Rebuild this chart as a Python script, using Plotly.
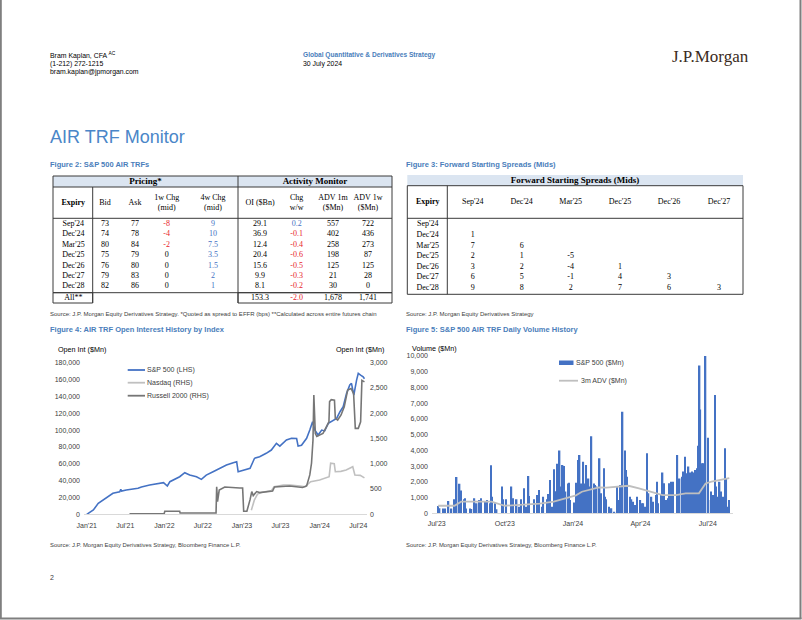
import plotly.graph_objects as go

W, H = 802, 620
def px(x): return x / W
def py(y): return 1 - y / H

# ---------------- DATA ----------------
# Figure 2 table
expiries = ["Sep'24", "Dec'24", "Mar'25", "Dec'25", "Dec'26", "Dec'27", "Dec'28"]
bid = [73, 74, 80, 75, 76, 79, 82]
ask = [77, 78, 84, 79, 80, 83, 86]
chg_1w = [-8, -4, -2, 0, 0, 0, 0]
chg_4w = [9, 10, 7.5, 3.5, 1.5, 2, 1]
oi_bn = [29.1, 36.9, 12.4, 20.4, 15.6, 9.9, 8.1]
oi_chg = [0.2, -0.1, -0.4, -0.6, -0.5, -0.3, -0.2]
adv_1m = [557, 402, 258, 198, 125, 21, 30]
adv_1w = [722, 436, 273, 87, 125, 28, 0]
total_label = "All**"
total_oi, total_chg, total_adv1m, total_adv1w = 153.3, -2.0, 1678, 1741

# Figure 3 table (lower triangle)
fwd_cols = ["Sep'24", "Dec'24", "Mar'25", "Dec'25", "Dec'26", "Dec'27"]
fwd_vals = [[], [1], [7, 6], [2, 1, -5], [3, 2, -4, 1], [6, 5, -1, 4, 3], [9, 8, 2, 7, 6, 3]]

# Figure 4: open interest history
spx_dates = ['2021-01-01', '2021-02-01', '2021-02-24', '2021-03-18', '2021-04-10', '2021-05-04',
             '2021-06-05', '2021-06-10', '2021-06-14', '2021-07-06', '2021-08-30', '2021-09-15',
             '2021-10-24', '2021-12-10', '2021-12-28', '2022-01-15', '2022-01-27', '2022-03-14',
             '2022-04-07', '2022-04-30', '2022-06-01', '2022-06-24', '2022-07-17', '2022-08-18',
             '2022-09-19', '2022-10-20', '2022-11-21', '2022-12-07', '2022-12-14', '2023-01-15',
             '2023-02-08', '2023-03-01', '2023-03-25', '2023-04-25', '2023-05-19', '2023-06-12',
             '2023-06-28', '2023-07-29', '2023-08-22', '2023-09-15', '2023-09-22', '2023-10-08',
             '2023-11-01', '2023-11-16', '2023-11-29', '2023-12-10', '2023-12-25', '2024-01-11',
             '2024-01-25', '2024-02-11', '2024-03-05', '2024-03-21', '2024-04-06', '2024-04-21',
             '2024-05-07', '2024-05-22', '2024-05-30', '2024-06-10', '2024-06-23', '2024-07-01',
             '2024-07-12', '2024-07-24', '2024-07-30']
spx_oi = [0, 5100, 13000, 17000, 20900, 24900,
          26800, 29500, 27500, 28800, 30900, 32500,
          34800, 36800, 37500, 33600, 38700, 44600,
          49400, 46600, 44600, 41500, 46600, 50600,
          54600, 58500, 61300, 62400, 50600, 52600,
          54600, 66500, 68400, 72400, 76300, 84300,
          81000, 88200, 90200, 90000, 81000, 82000,
          90200, 100000, 110000, 100000, 94100, 100000,
          99000, 108000, 111900, 113900, 121800, 127700,
          143600, 153500, 155500, 141600, 159400, 167300,
          165300, 163300, 161000]

ndx_dates = ['2023-02-14', '2023-02-28', '2023-03-15', '2023-04-01', '2023-05-20', '2023-06-01',
             '2023-07-15', '2023-08-15', '2023-10-01', '2023-10-25', '2023-11-20', '2024-01-01',
             '2024-02-15', '2024-02-22', '2024-03-10', '2024-03-15', '2024-04-10', '2024-05-05',
             '2024-06-05', '2024-06-15', '2024-07-10', '2024-07-30']
ndx_oi = [80, 280, 400, 430, 470, 546,
          580, 580, 560, 546, 645, 680,
          744, 1010, 1000, 843, 850, 876,
          942, 777, 770, 720]

rty_dates = ['2021-07-21', '2021-12-31', '2022-01-03', '2022-03-14', '2022-03-16', '2022-09-01',
             '2022-09-04', '2022-09-08', '2022-09-16', '2022-10-12', '2022-12-21', '2023-01-04',
             '2023-01-09', '2023-01-24', '2023-02-08', '2023-02-16', '2023-02-23', '2023-03-11',
             '2023-03-25', '2023-05-25', '2023-06-03', '2023-08-13', '2023-10-13', '2023-11-01',
             '2023-11-16', '2023-11-24', '2023-12-01', '2023-12-05', '2023-12-12', '2023-12-19',
             '2024-01-01', '2024-01-17', '2024-02-02', '2024-02-14', '2024-02-17', '2024-02-25',
             '2024-03-11', '2024-03-15', '2024-03-26', '2024-04-11', '2024-04-26', '2024-05-12',
             '2024-05-28', '2024-06-09', '2024-06-17', '2024-07-01', '2024-07-12', '2024-07-18',
             '2024-07-30']
rty_oi = [10, 10, 60, 60, 25, 25,
          546, 250, 480, 540, 520, 520,
          60, 60, 290, 450, 370, 450,
          430, 460, 540, 560, 530, 560,
          780, 1010, 1470, 2360, 1600, 1540,
          1570, 1600, 1730, 1830, 2230, 2270,
          2260, 1900, 1866, 1965, 2130, 2460,
          2490, 2390, 1700, 1700, 1830, 2650,
          2620]

oi_tick_dates = ['2021-01-01', '2021-07-01', '2022-01-01', '2022-07-01',
                 '2023-01-01', '2023-07-01', '2024-01-01', '2024-07-01']
oi_tick_text = ["Jan'21", "Jul'21", "Jan'22", "Jul'22", "Jan'23", "Jul'23", "Jan'24", "Jul'24"]

# Figure 5: daily volume
vol_dates = ['2023-07-03', '2023-07-05', '2023-07-10', '2023-07-12', '2023-07-17', '2023-07-21',
             '2023-07-25', '2023-07-28', '2023-07-31', '2023-08-01', '2023-08-03', '2023-08-07',
             '2023-08-08', '2023-08-10', '2023-08-15', '2023-08-17', '2023-08-21', '2023-08-24',
             '2023-08-28', '2023-08-30', '2023-09-05', '2023-09-07', '2023-09-11', '2023-09-12',
             '2023-09-14', '2023-09-18', '2023-09-20', '2023-09-27', '2023-09-29', '2023-10-03',
             '2023-10-10', '2023-10-12', '2023-10-17', '2023-10-20', '2023-10-23', '2023-10-27',
             '2023-10-30', '2023-11-02', '2023-11-03', '2023-11-09', '2023-11-14', '2023-11-16',
             '2023-11-20', '2023-11-22', '2023-11-27', '2023-11-29', '2023-12-01', '2023-12-04',
             '2023-12-06', '2023-12-08', '2023-12-11', '2023-12-12', '2023-12-14', '2023-12-15',
             '2023-12-18', '2023-12-20', '2023-12-22', '2023-12-26', '2023-12-27', '2023-12-28',
             '2024-01-02', '2024-01-05', '2024-01-08', '2024-01-10', '2024-01-12', '2024-01-15',
             '2024-01-17', '2024-01-19', '2024-01-22', '2024-01-24', '2024-01-26', '2024-01-29',
             '2024-01-31', '2024-02-02', '2024-02-05', '2024-02-06', '2024-02-08', '2024-02-12',
             '2024-02-13', '2024-02-15', '2024-02-19', '2024-02-20', '2024-02-22', '2024-02-26',
             '2024-02-29', '2024-03-04', '2024-03-05', '2024-03-06', '2024-03-08', '2024-03-11',
             '2024-03-13', '2024-03-14', '2024-03-18', '2024-03-20', '2024-03-22', '2024-03-25',
             '2024-03-27', '2024-04-01', '2024-04-03', '2024-04-05', '2024-04-08', '2024-04-10',
             '2024-04-12', '2024-04-16', '2024-04-18', '2024-04-22', '2024-04-23', '2024-04-25',
             '2024-04-29', '2024-05-01', '2024-05-03', '2024-05-06', '2024-05-08', '2024-05-10',
             '2024-05-13', '2024-05-15', '2024-05-20', '2024-05-21', '2024-05-24', '2024-05-27',
             '2024-05-29', '2024-05-31', '2024-06-03', '2024-06-05', '2024-06-07', '2024-06-10',
             '2024-06-12', '2024-06-14', '2024-06-17', '2024-06-18', '2024-06-20', '2024-06-21',
             '2024-06-24', '2024-06-25', '2024-06-26', '2024-06-28', '2024-07-01', '2024-07-02',
             '2024-07-05', '2024-07-08', '2024-07-09', '2024-07-11', '2024-07-12', '2024-07-15',
             '2024-07-17', '2024-07-19', '2024-07-22', '2024-07-24', '2024-07-26', '2024-07-29',
             '2024-07-30']
vol_mn = [470, 320, 300, 300, 780, 300,
          900, 2300, 1050, 1880, 1450, 900,
          950, 300, 300, 280, 950, 640,
          850, 950, 740, 850, 640, 3050,
          1050, 640, 250, 1700, 890, 890,
          1700, 950, 890, 420, 890, 1590,
          420, 2370, 1100, 890, 1170, 1480,
          420, 1060, 890, 1230, 2120, 420,
          2800, 1400, 3150, 1380, 4000, 1700,
          3070, 3000, 1380, 1900, 1950, 850,
          680, 1950, 3390, 3700, 1900, 3280,
          1900, 3070, 2220, 1700, 4900, 1900,
          1800, 1700, 1900, 3500, 1270, 2860,
          1060, 890, 420, 210, 320, 100,
          1700, 850, 1800, 420, 6460, 4000,
          2750, 2330, 1060, 890, 740, 530,
          1060, 850, 640, 640, 420, 3810,
          1270, 1060, 740, 1170, 2010, 640,
          1170, 2590, 1910, 850, 950, 1910,
          2010, 2010, 2440, 3710, 2220, 2330,
          2650, 3600, 2540, 2970, 2590, 2650,
          2590, 2750, 2860, 4300, 9400, 6600,
          3180, 3180, 1900, 10000, 4800, 850,
          1380, 1170, 1060, 7520, 1700, 1060,
          2010, 1380, 1060, 4130, 2230, 420,
          850]

adv_dates = ['2023-07-03', '2023-07-25', '2023-08-03', '2023-09-13', '2023-10-01', '2023-10-24',
             '2023-11-17', '2023-12-06', '2023-12-24', '2024-01-05', '2024-01-13', '2024-01-27',
             '2024-02-05', '2024-02-15', '2024-03-07', '2024-03-16', '2024-03-30', '2024-04-17',
             '2024-05-01', '2024-05-19', '2024-06-01', '2024-06-19', '2024-06-28', '2024-07-06',
             '2024-07-19', '2024-07-30']
adv_3m = [480, 480, 740, 740, 480, 560,
          610, 740, 1000, 1140, 1370, 1550,
          1650, 1630, 1690, 1750, 1590, 1370,
          1160, 1160, 1270, 1270, 1900, 2010,
          2120, 2230]

vol_tick_dates = ['2023-07-01', '2023-10-01', '2024-01-01', '2024-04-01', '2024-07-01']
vol_tick_text = ["Jul'23", "Oct'23", "Jan'24", "Apr'24", "Jul'24"]

# ---------------- STYLE ----------------
SANS = "Liberation Sans, Arial, sans-serif"
SERIF = "Liberation Serif, Times New Roman, serif"
BLUE_T = "#4a7ebb"
SPX_C = "#4472c4"
NDX_C = "#c0c0c0"
RTY_C = "#767676"
POS_C = "#4472c4"
NEG_C = "#e8242b"
TXT = "#404040"

fig = go.Figure()

# ---- Figure 4 traces ----
fig.add_trace(go.Scatter(x=spx_dates, y=spx_oi, mode="lines", line=dict(color=SPX_C, width=1.6),
                         xaxis="x", yaxis="y", showlegend=False, hoverinfo="skip"))
fig.add_trace(go.Scatter(x=ndx_dates, y=ndx_oi, mode="lines", line=dict(color=NDX_C, width=1.6),
                         xaxis="x", yaxis="y2", showlegend=False, hoverinfo="skip"))
fig.add_trace(go.Scatter(x=rty_dates, y=rty_oi, mode="lines", line=dict(color=RTY_C, width=1.6),
                         xaxis="x", yaxis="y2", showlegend=False, hoverinfo="skip"))

# ---- Figure 5 traces ----
fig.add_trace(go.Bar(x=vol_dates, y=vol_mn, marker=dict(color=SPX_C, line=dict(width=0)),
                     width=1.9 * 86400000, xaxis="x2", yaxis="y3", showlegend=False, hoverinfo="skip"))
fig.add_trace(go.Scatter(x=adv_dates, y=adv_3m, mode="lines", line=dict(color="#bfbfbf", width=1.8),
                         xaxis="x2", yaxis="y3", showlegend=False, hoverinfo="skip"))

# ---- Tables (drawn on a page-pixel axis pair x3/y4) ----
def col_of(v):
    if v < 0:
        return NEG_C
    if v > 0:
        return POS_C
    return "black"

t1_cols = [73.3, 105, 135, 166.7, 213, 260, 296.7, 333, 368]
t1_rows = [224, 234.4, 244.8, 255.2, 265.6, 276, 286.4]
t1_x, t1_y, t1_t, t1_c = [], [], [], []
for i, e in enumerate(expiries):
    cells = [
        (e, "black"),
        (str(bid[i]), "black"),
        (str(ask[i]), "black"),
        (f"{chg_1w[i]:g}", col_of(chg_1w[i])),
        (f"{chg_4w[i]:g}", col_of(chg_4w[i])),
        (f"{oi_bn[i]:.1f}", "black"),
        (f"{oi_chg[i]:.1f}", col_of(oi_chg[i])),
        (f"{adv_1m[i]:,}", "black"),
        (f"{adv_1w[i]:,}", "black"),
    ]
    for j, (txt, c) in enumerate(cells):
        t1_x.append(t1_cols[j]); t1_y.append(t1_rows[i]); t1_t.append(txt); t1_c.append(c)
for j, (txt, c) in zip([0, 5, 6, 7, 8], [(total_label, "black"), (f"{total_oi:.1f}", "black"),
                                          (f"{total_chg:.1f}", NEG_C), (f"{total_adv1m:,}", "black"),
                                          (f"{total_adv1w:,}", "black")]):
    t1_x.append(t1_cols[j]); t1_y.append(298); t1_t.append(txt); t1_c.append(c)

fig.add_trace(go.Scatter(x=t1_x, y=t1_y, text=t1_t, mode="text", textposition="middle center",
                         textfont=dict(family=SERIF, size=8, color=t1_c), xaxis="x3", yaxis="y4",
                         showlegend=False, hoverinfo="skip", cliponaxis=False))

t1_head = ["<b>Expiry</b>", "Bid", "Ask", "1w Chg<br>(mid)", "4w Chg<br>(mid)", "OI ($Bn)",
           "Chg<br>w/w", "ADV 1m<br>($Mn)", "ADV 1w<br>($Mn)"]
fig.add_trace(go.Scatter(x=t1_cols, y=[203] * len(t1_cols), text=t1_head, mode="text",
                         textposition="middle center", textfont=dict(family=SERIF, size=8, color="black"),
                         xaxis="x3", yaxis="y4", showlegend=False, hoverinfo="skip", cliponaxis=False))
fig.add_trace(go.Scatter(x=[145.5, 315], y=[181.5, 181.5], text=["<b>Pricing*</b>", "<b>Activity Monitor</b>"],
                         mode="text", textposition="middle center",
                         textfont=dict(family=SERIF, size=9, color="black"),
                         xaxis="x3", yaxis="y4", showlegend=False, hoverinfo="skip", cliponaxis=False))

# Table 2
t2_cols = [427.7, 472.7, 521.7, 570.7, 620, 669, 719]
t2_rows = [224.3, 234.9, 245.5, 256.1, 266.7, 277.3, 288.2]
t2_x, t2_y, t2_t = [], [], []
for i, e in enumerate(expiries):
    t2_x.append(t2_cols[0]); t2_y.append(t2_rows[i]); t2_t.append(e)
    for j, v in enumerate(fwd_vals[i]):
        t2_x.append(t2_cols[j + 1]); t2_y.append(t2_rows[i]); t2_t.append(f"{v:g}")
fig.add_trace(go.Scatter(x=t2_x, y=t2_y, text=t2_t, mode="text", textposition="middle center",
                         textfont=dict(family=SERIF, size=8, color="black"), xaxis="x3", yaxis="y4",
                         showlegend=False, hoverinfo="skip", cliponaxis=False))
fig.add_trace(go.Scatter(x=t2_cols, y=[202.3] * len(t2_cols), text=["<b>Expiry</b>"] + fwd_cols,
                         mode="text", textposition="middle center",
                         textfont=dict(family=SERIF, size=8, color="black"), xaxis="x3", yaxis="y4",
                         showlegend=False, hoverinfo="skip", cliponaxis=False))
fig.add_trace(go.Scatter(x=[575], y=[180.3], text=["<b>Forward Starting Spreads (Mids)</b>"],
                         mode="text", textposition="middle center",
                         textfont=dict(family=SERIF, size=9, color="black"), xaxis="x3", yaxis="y4",
                         showlegend=False, hoverinfo="skip", cliponaxis=False))

# ---- Shapes ----
shapes = []
LC = "#3a3a3a"
def rect(x0, y0, x1, y1, fill=None, line=True):
    d = dict(type="rect", xref="x3", yref="y4", x0=x0, y0=y0, x1=x1, y1=y1, layer="below")
    d["fillcolor"] = fill if fill else "rgba(0,0,0,0)"
    d["line"] = dict(color=LC, width=1) if line else dict(width=0)
    return d
def hline(x0, x1, y):
    return dict(type="line", xref="x3", yref="y4", x0=x0, x1=x1, y0=y, y1=y, line=dict(color=LC, width=1))
def vline(x, y0, y1):
    return dict(type="line", xref="x3", yref="y4", x0=x, x1=x, y0=y0, y1=y1, line=dict(color=LC, width=1))

HDR = "#dbe5f1"
# table 1
shapes.append(rect(53, 176, 392, 187, fill=HDR, line=False))
shapes.append(rect(53, 176, 392, 292.7))
shapes.append(hline(53, 392, 187))
shapes.append(hline(53, 392, 218.3))
shapes.append(vline(238, 176, 303))
shapes.append(vline(92.7, 187, 303))
shapes.append(rect(53, 292.7, 92.7, 303))
shapes.append(rect(238, 292.7, 392, 303))
# table 2
shapes.append(rect(407.3, 175, 743, 185.7, fill=HDR, line=False))
shapes.append(rect(407.3, 185.7, 743, 294.3))
shapes.append(hline(407.3, 743, 218.3))
shapes.append(vline(447.3, 185.7, 294.3))

# legends for figure 4
leg4 = [("S&P 500 (LHS)", SPX_C, 370), ("Nasdaq (RHS)", NDX_C, 382.7), ("Russell 2000 (RHS)", RTY_C, 395.7)]
for name, c, yy in leg4:
    shapes.append(dict(type="line", xref="x3", yref="y4", x0=127.7, x1=145, y0=yy, y1=yy,
                       line=dict(color=c, width=1.8)))
# legend for figure 5
shapes.append(dict(type="rect", xref="x3", yref="y4", x0=559, x1=573.5, y0=360.5, y1=365,
                   fillcolor=SPX_C, line=dict(width=0)))
shapes.append(dict(type="line", xref="x3", yref="y4", x0=559, x1=578, y0=380.7, y1=380.7,
                   line=dict(color="#bfbfbf", width=1.8)))
# page frame (left, right, bottom edges)
shapes.append(dict(type="line", xref="x3", yref="y4", x0=0.8, x1=0.8, y0=0, y1=619,
                   line=dict(color="#7f7f7f", width=2)))
shapes.append(dict(type="line", xref="x3", yref="y4", x0=800.5, x1=800.5, y0=0, y1=619,
                   line=dict(color="#7f7f7f", width=2)))
shapes.append(dict(type="line", xref="x3", yref="y4", x0=0, x1=801.5, y0=618.5, y1=618.5,
                   line=dict(color="#7f7f7f", width=2)))

# ---- Annotations ----
ann = []
def text(s, x, y, size=6, color="black", family=SANS, anchor="left"):
    ann.append(dict(text=s, x=px(x), y=py(y), xref="paper", yref="paper", xanchor=anchor,
                    yanchor="middle", showarrow=False, font=dict(family=family, size=size, color=color),
                    borderpad=0))

text("Bram Kaplan, CFA <sup>AC</sup>", 49, 55.5, 6.9)
text("(1-212) 272-1215", 49, 63.5, 6.9)
text("bram.kaplan@jpmorgan.com", 49, 71.5, 6.9)
text("<b>Global Quantitative & Derivatives Strategy</b>", 302, 55.5, 6.6, BLUE_T)
text("30 July 2024", 302, 63.5, 6.9)
text("J.P.Morgan", 671, 57, 17, "#3b2b22", SERIF)
text("AIR TRF Monitor", 49, 137, 18, "#4a86c8")
text("<b>Figure 2: S&P 500 AIR TRFs</b>", 49, 164, 7.5, BLUE_T)
text("<b>Figure 3: Forward Starting Spreads (Mids)</b>", 405, 164, 7.5, BLUE_T)
text("Source: J.P. Morgan Equity Derivatives Strategy. *Quoted as spread to EFFR (bps) **Calculated across entire futures chain",
     49, 314, 6.0, TXT)
text("Source: J.P. Morgan Equity Derivatives Strategy", 405, 314, 6.0, TXT)
text("<b>Figure 4: AIR TRF Open Interest History by Index</b>", 49, 329, 7.5, BLUE_T)
text("<b>Figure 5: S&P 500 AIR TRF Daily Volume History</b>", 405, 329, 7.5, BLUE_T)
text("Open Int ($Mn)", 57, 349, 7.2, "black")
text("Open Int ($Mn)", 384.5, 349, 7.2, "black", anchor="right")
text("Volume ($Mn)", 411, 348, 7.2, "black")
for name, c, yy in leg4:
    text(name, 146, yy, 7, TXT)
text("S&P 500 ($Mn)", 574.5, 362.7, 7, TXT)
text("3m ADV ($Mn)", 579.5, 380.7, 7, TXT)
text("Source: J.P. Morgan Equity Derivatives Strategy, Bloomberg Finance L.P.", 49, 545, 5.9, TXT)
text("Source: J.P. Morgan Equity Derivatives Strategy, Bloomberg Finance L.P.", 405, 545, 5.9, TXT)
text("2", 49, 577, 7, TXT)

tickfont = dict(family=SANS, size=7, color=TXT)
common = dict(showgrid=False, zeroline=False, ticks="", tickfont=tickfont, fixedrange=True,
              automargin=False)

fig.update_layout(
    width=W, height=H, autosize=False,
    margin=dict(l=0, r=0, t=0, b=0, pad=0, autoexpand=False),
    paper_bgcolor="white", plot_bgcolor="rgba(0,0,0,0)",
    showlegend=False, barmode="overlay",
    xaxis=dict(domain=[px(84), px(367)], range=["2020-12-19", "2024-08-11"], type="date",
               tickvals=oi_tick_dates, ticktext=oi_tick_text, showline=True, linecolor="#d9d9d9",
               linewidth=1, anchor="y", ticklabelstandoff=4, **common),
    yaxis=dict(domain=[py(514.3), py(362.7)], range=[0, 180000], tickvals=list(range(0, 180001, 20000)),
               tickformat=",", anchor="x", ticklabelstandoff=3, **common),
    yaxis2=dict(overlaying="y", side="right", range=[0, 3000], tickvals=list(range(0, 3001, 500)),
                tickformat=",", anchor="x", ticklabelstandoff=2, **common),
    xaxis2=dict(domain=[px(432), px(733)], range=["2023-06-24 16:00", "2024-08-04"], type="date",
                tickvals=vol_tick_dates, ticktext=vol_tick_text, showline=True, linecolor="#d9d9d9",
                linewidth=1, anchor="y3", ticklabelstandoff=3, **common),
    yaxis3=dict(domain=[py(513.3), py(356)], range=[0, 10000], tickvals=list(range(0, 10001, 1000)),
                tickformat=",", anchor="x2", ticklabelstandoff=3, **common),
    xaxis3=dict(domain=[0, 1], range=[0, W], visible=False, anchor="y4", fixedrange=True, automargin=False),
    yaxis4=dict(domain=[0, 1], range=[H, 0], visible=False, anchor="x3", fixedrange=True, automargin=False),
    shapes=shapes,
    annotations=ann,
)

fig.write_html("out.html", config={"displayModeBar": False},
               post_script="document.body.style.margin='0px';document.body.style.padding='0px';"
                           "document.documentElement.style.overflow='hidden';")
